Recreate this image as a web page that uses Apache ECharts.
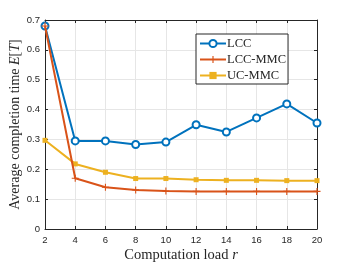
<!DOCTYPE html>
<html><head><meta charset="utf-8">
<script src="https://cdn.jsdelivr.net/npm/echarts@6/dist/echarts.min.js"></script>
<style>html,body{margin:0;padding:0;background:#fff}#c{width:350px;height:263px}</style>
</head><body><div id="c"></div>
<script>
const loads = [2,4,6,8,10,12,14,16,18,20];
const lcc = [0.680,0.295,0.295,0.283,0.291,0.349,0.325,0.372,0.419,0.355];
const lccMmc = [0.680,0.170,0.140,0.131,0.127,0.126,0.126,0.126,0.126,0.126];
const ucMmc = [0.297,0.218,0.190,0.169,0.169,0.165,0.163,0.163,0.162,0.162];
const yTicks = [0,0.1,0.2,0.3,0.4,0.5,0.6,0.7];
const names = ['LCC','LCC-MMC','UC-MMC'];

const pair = a => loads.map((x,i)=>[x,a[i]]);
const plus = 'path://M4.2,0H5.8V4.2H10V5.8H5.8V10H4.2V5.8H0V4.2H4.2Z';
const axCol = '#262626';
const serif = 'Liberation Serif';
const sans = 'Liberation Sans';
const richFor = s => ({a:{fontFamily:serif,fontSize:s,color:axCol},i:{fontFamily:serif,fontStyle:'italic',fontSize:s,color:axCol}});

const chart = echarts.init(document.getElementById('c'), null, {renderer:'canvas'});
const baseX = {type:'value', min:2, max:20, interval:2};
const baseY = {type:'value', min:yTicks[0], max:yTicks[yTicks.length-1], interval:0.1};
chart.setOption({
  animation:false,
  grid:{left:45, right:33, top:20, bottom:34, show:false, containLabel:false, outerBoundsMode:'none'},
  xAxis:[
    Object.assign({}, baseX, {
      position:'bottom',
      name:'{a|Computation load }{i|r}', nameLocation:'middle', nameGap:19, nameMoveOverlap:false,
      nameTextStyle:{rich:richFor(14.5)},
      axisLine:{show:true,lineStyle:{color:axCol,width:1}},
      axisTick:{show:true,inside:true,length:3,lineStyle:{color:axCol}},
      axisLabel:{color:axCol,fontFamily:sans,fontSize:9.5,margin:6},
      splitLine:{show:true,lineStyle:{color:'#e6e6e6',width:1}}
    }),
    Object.assign({}, baseX, {
      position:'top',
      axisLine:{show:true,onZero:false,lineStyle:{color:axCol,width:1}},
      axisTick:{show:true,inside:true,length:3,lineStyle:{color:axCol}},
      axisLabel:{show:false}, splitLine:{show:false}
    })
  ],
  yAxis:[
    Object.assign({}, baseY, {
      position:'left',
      name:'{a|Average completion time }{i|E}{a|[}{i|T}{a|]}', nameLocation:'middle', nameGap:23, nameMoveOverlap:false,
      nameTextStyle:{rich:richFor(14)},
      axisLine:{show:true,lineStyle:{color:axCol,width:1}},
      axisTick:{show:true,inside:true,length:3,lineStyle:{color:axCol}},
      axisLabel:{color:axCol,fontFamily:sans,fontSize:9.5,margin:5,formatter:v=>String(Math.round(v*10)/10)},
      splitLine:{show:true,lineStyle:{color:'#e6e6e6',width:1}}
    }),
    Object.assign({}, baseY, {
      position:'right',
      axisLine:{show:true,onZero:false,lineStyle:{color:axCol,width:1}},
      axisTick:{show:true,inside:true,length:3,lineStyle:{color:axCol}},
      axisLabel:{show:false}, splitLine:{show:false}
    })
  ],
  legend:{
    left:196, top:34, orient:'vertical', itemGap:3, itemWidth:26, itemHeight:9,
    padding:[3,2,2,3], borderColor:axCol, borderWidth:1, backgroundColor:'#fff',
    textStyle:{fontFamily:serif,fontSize:12.5,color:axCol,padding:[0,0,0,-4]},
    data:names
  },
  series:[
    {name:names[0], type:'line', data:pair(lcc), symbol:'emptyCircle', symbolSize:7,
     lineStyle:{color:'#0072BD',width:2}, itemStyle:{color:'#0072BD',borderWidth:1.5}, z:3},
    {name:names[1], type:'line', data:pair(lccMmc), symbol:plus, symbolSize:7,
     lineStyle:{color:'#D95319',width:2}, itemStyle:{color:'#D95319'}, z:4},
    {name:names[2], type:'line', data:pair(ucMmc), symbol:'rect', symbolSize:5,
     lineStyle:{color:'#EDB120',width:2}, itemStyle:{color:'#EDB120'}, z:2}
  ]
});
</script></body></html>
